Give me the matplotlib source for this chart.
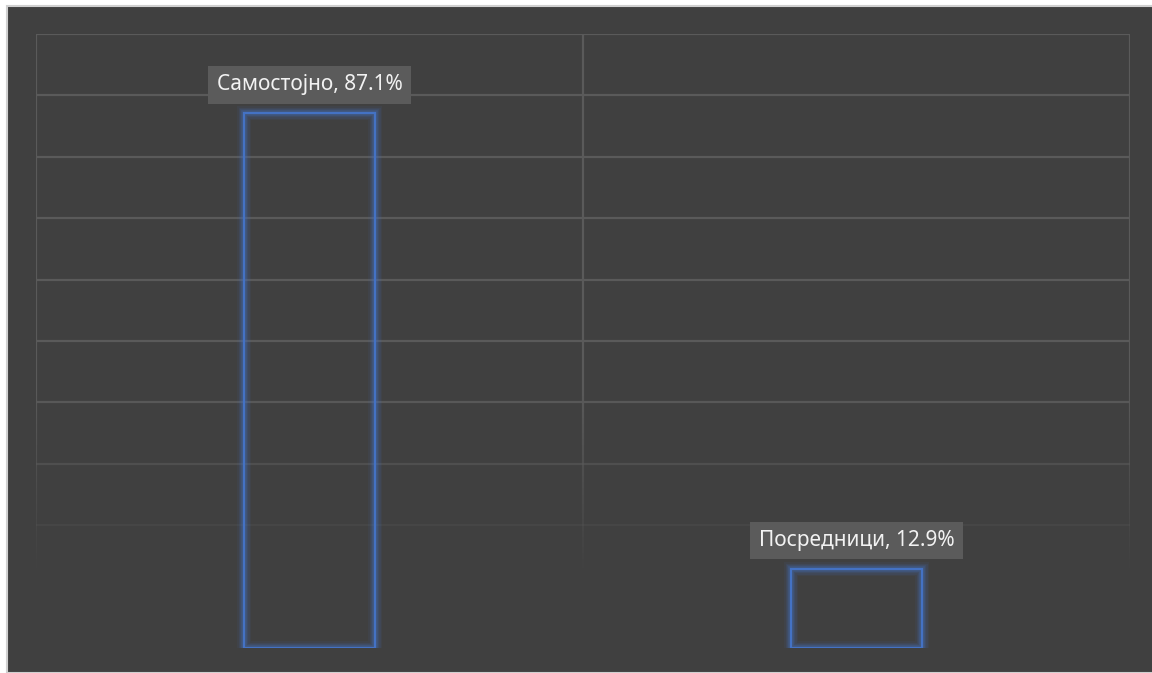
import matplotlib
matplotlib.use("Agg")
import matplotlib.pyplot as plt
import numpy as np
from matplotlib.patches import Rectangle
from matplotlib.collections import LineCollection

# data
categories = ["Самостојно", "Посредници"]
values = [87.1, 12.9]
grid_levels = [10, 20, 30, 40, 50, 60, 70, 80, 90, 100]

bg = "#404040"
grid_c = "#5a5a5a"
bar_c = "#4472C4"
lab_bg = "#5b5b5b"

plt.rcParams["font.family"] = ["Noto Sans", "DejaVu Sans"]

fig = plt.figure(figsize=(11.52, 6.73), dpi=100)
fig.patch.set_facecolor("white")
# dark chart area with light frame
fig.patches.append(Rectangle((7 / 1152, 0), 1, 1 - 6 / 673, transform=fig.transFigure,
                             facecolor=bg, edgecolor="#d0d0d0", linewidth=1.5, zorder=-5))

ax = fig.add_axes([36 / 1152, 1 - 648 / 673, 1094 / 1152, (648 - 34) / 673])
ax.set_zorder(2)
ax.set_facecolor("none")
ax.set_xlim(-0.5, len(categories) - 0.5)
ax.set_ylim(0, 100)
for s in ax.spines.values():
    s.set_visible(False)
ax.set_xticks([])
ax.set_yticks([])


def fade(v):
    return float(np.clip((v - 12) / 30.0, 0, 1))


gc = matplotlib.colors.to_rgb(grid_c)
# horizontal gridlines, fading toward the bottom
for g in grid_levels:
    a = fade(g)
    if a > 0:
        ax.plot([-0.5, len(categories) - 0.5], [g, g], color=gc, alpha=a, lw=1.6, zorder=1,
                solid_capstyle="butt")

# vertical category separators, with a vertical fade
ys = np.linspace(8, 100, 185)
for xv in np.arange(-0.5, len(categories), 1.0):
    segs = [[(xv, ys[i]), (xv, ys[i + 1])] for i in range(len(ys) - 1)]
    cols = [(*gc, fade((ys[i] + ys[i + 1]) / 2)) for i in range(len(ys) - 1)]
    ax.add_collection(LineCollection(segs, colors=cols, linewidths=1.6, zorder=1))

# bars: outline only, with soft glow
width = 0.24
x = np.arange(len(categories))
for glow_w, glow_a in [(10, 0.08), (8, 0.1), (6, 0.14), (4, 0.25)]:
    ax.bar(x, values, width=width, facecolor="none", edgecolor=bar_c,
           linewidth=glow_w, alpha=glow_a, zorder=2)
ax.bar(x, values, width=width, facecolor="none", edgecolor=bar_c, linewidth=1.6, zorder=3)

for xi, cat, v in zip(x, categories, values):
    ax.text(xi, v + 4.6, f"{cat}, {v}%", ha="center", va="center", fontsize=15,
            color="#f2f2f2", zorder=4,
            bbox=dict(boxstyle="square,pad=0.4", fc=lab_bg, ec="none"))

fig.savefig("out.png", dpi=100, facecolor=fig.get_facecolor())
